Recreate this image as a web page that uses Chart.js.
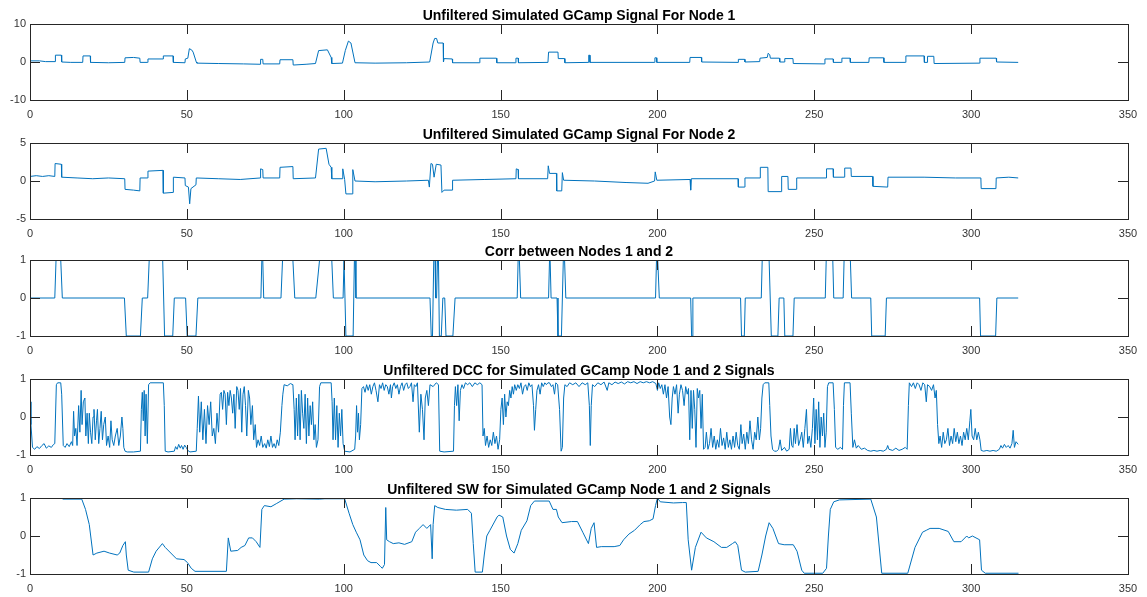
<!DOCTYPE html>
<html>
<head>
<meta charset="utf-8">
<script src="https://cdn.jsdelivr.net/npm/chart.js@4"></script>
<style>
  body { margin: 0; background: #fff; }
  #wrap { position: relative; width: 1147px; height: 597px; }
  .panel { position: absolute; left: 0; width: 1147px; height: 120px; }
</style>
</head>
<body>
<div id="wrap">
  <div class="panel" style="top:0px"><canvas id="c1" width="1147" height="120"></canvas></div>
  <div class="panel" style="top:119px"><canvas id="c2" width="1147" height="120"></canvas></div>
  <div class="panel" style="top:236px"><canvas id="c3" width="1147" height="120"></canvas></div>
  <div class="panel" style="top:355px"><canvas id="c4" width="1147" height="120"></canvas></div>
  <div class="panel" style="top:474px"><canvas id="c5" width="1147" height="120"></canvas></div>
</div>
<script>
// x axis ticks shared by every subplot
const xTicks = [0, 50, 100, 150, 200, 250, 300, 350];

const titles = [
    'Unfiltered Simulated GCamp Signal For Node 1',
    'Unfiltered Simulated GCamp Signal For Node 2',
    'Corr between Nodes 1 and 2',
    'Unfiltered DCC for Simulated GCamp Node 1 and 2 Signals',
    'Unfiltered SW for Simulated GCamp Node 1 and 2 Signals'
];

// y tick labels per subplot
const yTicks1 = [-10, 0, 10];
const yTicks2 = [-5, 0, 5];
const yTicks3 = [-1, 0, 1];

// signals as [time, value]
const node1 = [[0,0.3],[3,0.3],[5,0.1],[8,0.1],[8.1,1.8],[10,1.8],[10.1,0],[13,-0.1],[16.8,-0.1],[16.9,1.6],[19.2,1.6],[19.3,-0.1],[25,-0.2],[30.2,-0.1],[30.3,1.1],[33,1.2],[35,1.0],[35.1,-0.1],[37.5,-0.1],[37.6,0.8],[42.4,0.8],[42.5,1.6],[45.6,1.6],[45.7,-0.1],[49.4,-0.2],[49.5,0.8],[50.3,1.0],[50.8,3.5],[51.5,3.2],[52,2.6],[53,0],[53.2,-0.3],[60,-0.4],[68,-0.5],[73.4,-0.6],[73.5,0.7],[74.2,0.7],[74.3,-0.5],[79.6,-0.5],[79.7,0.6],[83.8,0.6],[83.9,-0.8],[88,-0.6],[91,-0.4],[92,3.0],[94.8,3.2],[96,1.2],[96.2,-0.4],[99.6,-0.3],[100.5,3.0],[101.5,5.5],[102.3,5.0],[103.6,-0.2],[110,-0.3],[120,-0.2],[127.4,0],[128.5,5.0],[129,6.2],[129.6,6.2],[130,5.0],[131.7,5.0],[131.8,0],[132,0.9],[134.6,0.8],[134.7,-0.2],[143.3,-0.2],[143.4,1.0],[148.7,1.0],[148.8,-0.2],[154.8,-0.2],[154.9,1.0],[155.6,1.0],[155.7,-0.2],[165.1,-0.1],[165.3,2.6],[168.3,2.6],[168.4,0.9],[170.4,0.9],[170.5,-0.2],[177.9,-0.1],[178.1,1.8],[178.4,1.8],[178.5,-0.1],[199,-0.1],[199.2,1.1],[199.7,1.1],[199.8,-0.1],[210.3,-0.1],[210.4,1.2],[214,1.2],[214.1,0],[225.7,-0.1],[225.8,0.7],[227.8,0.7],[227.9,0],[232.6,0.1],[232.7,1.0],[235,1.2],[235.3,2.3],[235.8,1.9],[236,1.0],[238.9,1.0],[239,0],[240.5,0],[240.6,0.9],[243.2,0.9],[243.3,-0.4],[253.3,-0.5],[253.4,0.8],[256,0.8],[256.1,-0.1],[258.7,-0.1],[258.8,1.0],[261.4,1.0],[261.5,-0.1],[267.4,-0.1],[267.5,1.1],[272.1,1.1],[272.2,-0.1],[279.1,-0.1],[279.2,1.6],[285,1.6],[285.1,-0.1],[286,-0.1],[286.1,1.5],[288.1,1.5],[288.2,-0.4],[302.7,-0.3],[302.8,1.0],[308,1.0],[308.1,0],[315,-0.1]];

const node2 = [[0,0.6],[2,0.7],[4,0.6],[6,0.7],[7.9,0.6],[8,2.3],[10,2.2],[10.1,0.5],[15,0.4],[20,0.3],[25,0.4],[30.2,0.3],[30.3,-1.1],[33,-1.2],[35,-1.3],[35.1,0.4],[37.5,0.4],[37.6,1.3],[42.4,1.4],[42.5,-1.6],[45.6,-1.5],[45.7,0.5],[49.4,0.4],[49.5,-0.6],[50.5,-0.8],[50.9,-3.0],[51.3,-1.0],[52.9,-0.5],[53,0.4],[60,0.3],[67,0.2],[73.4,0.4],[73.5,1.6],[74.2,1.5],[74.3,0.4],[79.6,0.4],[79.7,1.8],[83.8,1.9],[83.9,0.3],[91,0.4],[92,4.2],[94.4,4.3],[95.3,2.2],[96,1.8],[96.2,0.3],[99.5,0.3],[99.7,1.6],[100.3,0.2],[100.7,-1.7],[102.7,-1.7],[102.9,1.5],[103.6,0],[110,-0.1],[120,0],[127,0.1],[127.3,-0.8],[127.8,2.3],[128.3,2.2],[128.8,0.5],[129.5,2.2],[131,2.1],[131.3,-1.5],[132,-1.2],[134.6,-1.2],[134.7,0.1],[145,0.2],[154.9,0.3],[155,1.6],[155.6,1.5],[155.7,0.3],[165,0.3],[165.2,2.0],[165.6,1.0],[167.8,1.0],[167.9,-1.3],[169.5,-1.3],[169.7,1.1],[170.1,0.1],[180,0],[190,-0.2],[197,-0.3],[199.1,0],[199.3,1.2],[199.8,0.1],[210.4,0.2],[210.6,-1.2],[210.8,0.3],[225.7,0.3],[225.8,-0.8],[227.8,-0.8],[227.9,0.4],[232.7,0.4],[232.8,1.8],[235.2,1.8],[235.3,-1.4],[239.5,-1.4],[239.6,0.6],[241.6,0.6],[241.7,-1.1],[244.3,-1.1],[244.4,0.4],[253.8,0.4],[253.9,1.6],[256,1.6],[256.1,0.5],[259.6,0.5],[259.7,1.7],[261.7,1.7],[261.8,0.6],[268.6,0.6],[268.7,-0.7],[273.4,-0.8],[273.5,0.5],[285,0.5],[295,0.4],[303.1,0.4],[303.2,-1.0],[307.9,-1.0],[308,0.4],[312,0.5],[315,0.4]];

const corr = [[0,0],[7.9,0],[8.3,1],[9.8,1],[10.3,0],[30.1,0],[30.7,-1],[35.2,-1],[35.8,0],[37.5,0],[38,1],[42.3,1],[42.9,-1],[45.5,-1],[46,0],[49.6,0],[50.1,-1],[52.9,-1],[53.5,0],[73.6,0],[73.9,1],[74.2,1],[74.5,0],[80,0],[80.5,1],[83.8,1],[84.4,0],[91.1,0],[92.3,1],[96.2,1],[96.7,0],[99.8,0],[100.1,1],[100.3,1],[100.7,-1],[103,-1],[103.4,1],[103.6,1],[103.9,0],[127.5,0],[127.9,-1],[128.3,-1],[128.7,1],[129.1,1],[129.3,0],[129.6,0],[129.9,1],[130.2,1],[130.5,-1],[131.1,-1],[131.6,0],[132.2,0],[132.6,-1],[134.8,-1],[135.5,0],[155.3,0],[155.6,1],[156,1],[156.4,0],[165.3,0],[165.6,1],[165.8,1],[166.1,0],[168,0],[168.3,-1],[169.4,-1],[170,1],[170.4,1],[170.8,0],[199.4,0],[199.7,1],[200.1,1],[200.6,0],[210.6,0],[210.9,-1],[211.1,-1],[211.3,0],[226.5,0],[226.8,-1],[227.7,-1],[228,0],[233.1,0],[233.4,1],[235.6,1],[236.3,-1],[238.4,-1],[238.8,0],[240.3,0],[240.6,-1],[243.2,-1],[243.6,0],[253.5,0],[253.8,1],[255.9,1],[256.2,0],[259.2,0],[259.5,1],[261.5,1],[261.9,0],[268,0],[268.3,-1],[272.6,-1],[273,0],[302.7,0],[303,-1],[307.8,-1],[308.2,0],[315,0]];

const dcc = [[0,0.4],[0.3,-0.2],[0.8,-0.8],[1.5,-0.85],[2.2,-0.78],[3,-0.83],[3.8,-0.75],[4.5,-0.7],[5.2,-0.82],[6,-0.76],[6.8,-0.8],[7.5,-0.72],[7.9,-0.7],[8.4,0.85],[8.8,0.9],[9.8,0.9],[10.1,0.6],[10.6,-0.75],[11.2,-0.8],[11.8,-0.7],[12.5,-0.78],[13.2,-0.65],[13.6,-0.75],[13.9,0.15],[14.2,-0.5],[14.6,-0.3],[15,-0.75],[15.5,0.3],[15.9,-0.4],[16.3,0.7],[16.6,-0.2],[17,0.4],[17.5,0.5],[17.8,-0.5],[18.2,0.1],[18.6,-0.7],[18.9,0.1],[19.3,-0.4],[19.7,-0.7],[20.1,0.0],[20.4,0.2],[20.8,-0.6],[21.2,-0.1],[21.5,0.2],[21.9,-0.7],[22.3,-0.3],[22.7,0.15],[23.1,-0.6],[23.5,-0.2],[24,0.0],[24.4,-0.75],[24.9,-0.5],[25.4,-0.8],[25.8,-0.1],[26.2,-0.6],[26.7,-0.75],[27.2,-0.5],[27.8,-0.3],[28.3,-0.75],[28.8,-0.5],[29.3,0.0],[29.6,-0.3],[29.9,-0.8],[30.3,-0.9],[31,-0.92],[33,-0.92],[35.2,-0.9],[35.5,0.2],[35.8,0.65],[36.1,-0.1],[36.4,0.7],[36.7,-0.5],[37,0.6],[37.4,-0.7],[37.8,0.85],[38.3,0.9],[42.5,0.9],[42.8,0.3],[43.1,-0.9],[44,-0.92],[46,-0.9],[46.4,-0.78],[46.9,-0.85],[47.4,-0.72],[47.9,-0.82],[48.3,-0.75],[48.8,-0.85],[49.3,-0.74],[49.8,-0.8],[50.3,-0.88],[51,-0.92],[53,-0.9],[53.3,-0.3],[53.7,0.55],[54.1,-0.4],[54.6,0.4],[55.1,-0.6],[55.6,0.2],[56.1,-0.7],[56.6,0.3],[57.1,-0.2],[57.6,0.4],[58.1,-0.5],[58.6,-0.3],[59.1,-0.7],[59.6,0.1],[60.1,-0.4],[60.6,0.6],[61,0.65],[61.4,0.2],[61.8,0.7],[62.2,0.6],[62.6,-0.2],[63,0.65],[63.4,0.3],[63.8,0.7],[64.2,0.5],[64.6,0.1],[65,0.6],[65.4,-0.3],[65.9,0.8],[66.3,0.7],[66.7,0.2],[67.1,0.75],[67.5,-0.4],[67.9,0.6],[68.3,0.8],[68.7,0.3],[69.1,-0.5],[69.6,0.7],[70,0.5],[70.4,-0.2],[70.9,0.3],[71.3,-0.6],[71.8,-0.2],[72.2,-0.8],[72.7,-0.6],[73.2,-0.75],[73.7,-0.5],[74.2,-0.8],[74.8,-0.7],[75.3,-0.82],[75.8,-0.6],[76.3,-0.78],[76.8,-0.5],[77.3,-0.8],[77.8,-0.7],[78.3,-0.82],[78.8,-0.6],[79.3,-0.75],[79.8,-0.4],[80.3,0.3],[80.6,0.6],[81,0.85],[82,0.82],[83,0.88],[83.8,0.85],[84.2,0.2],[84.5,-0.6],[84.9,0.5],[85.3,-0.5],[85.7,0.6],[86.1,-0.6],[86.5,0.7],[86.9,0.1],[87.3,-0.3],[87.7,0.6],[88.1,-0.7],[88.5,0.5],[88.9,-0.5],[89.3,0.3],[89.7,-0.2],[90.1,0.4],[90.5,-0.6],[90.9,-0.2],[91.3,-0.8],[91.8,-0.6],[92.3,0.8],[92.7,0.9],[96,0.9],[96.3,0.4],[96.6,-0.6],[97,0.5],[97.4,-0.6],[97.8,0.3],[98.2,-0.8],[98.6,0.1],[99,-0.5],[99.4,0.2],[99.8,-0.7],[100.3,-0.9],[102,-0.92],[103.5,-0.85],[103.8,-0.5],[104.1,0.3],[104.4,-0.4],[104.7,0.1],[105,-0.6],[105.4,-0.2],[105.8,0.75],[106.3,0.8],[106.8,0.65],[107.3,0.85],[107.8,0.7],[108.3,0.85],[108.8,0.6],[109.3,0.8],[109.8,0.9],[110.3,0.7],[110.9,0.4],[111.4,0.85],[111.9,0.75],[112.4,0.9],[112.9,0.7],[113.4,0.85],[113.9,0.8],[114.4,0.6],[114.9,0.85],[115.2,0.5],[115.6,0.8],[116.1,0.9],[116.6,0.75],[117.1,0.85],[117.6,0.6],[118.1,0.8],[118.6,0.9],[119.1,0.7],[119.6,0.85],[120.1,0.9],[120.6,0.75],[121.1,0.8],[121.6,0.9],[122.1,0.4],[122.5,0.85],[123,0.8],[123.5,0.9],[124.1,-0.4],[124.6,0.6],[125.1,0.2],[125.6,-0.6],[126,0.5],[126.5,0.7],[127,0.3],[127.5,0.85],[128.5,0.8],[129.5,0.9],[130.2,0.85],[130.6,-0.9],[132,-0.92],[135,-0.9],[135.3,0.3],[135.6,0.8],[136,0.3],[136.4,0.85],[136.8,-0.1],[137.2,0.7],[137.7,0.85],[138.2,0.75],[138.8,0.9],[139.5,0.85],[140.2,0.9],[141,0.8],[141.8,0.9],[142.6,0.85],[143.4,0.9],[144.1,0.85],[144.4,-0.5],[144.8,-0.3],[145.2,-0.75],[145.7,-0.5],[146.2,-0.8],[146.7,-0.6],[147.2,-0.75],[147.7,-0.4],[148.2,-0.7],[148.7,-0.5],[149.2,-0.85],[149.7,-0.6],[150.1,0.2],[150.5,0.5],[150.9,-0.2],[151.3,0.6],[151.7,0.0],[152.1,0.4],[152.5,0.3],[152.9,0.7],[153.3,0.5],[153.7,0.8],[154.1,0.6],[154.5,0.85],[155,0.7],[155.5,0.85],[156,0.75],[156.5,0.9],[157,0.6],[157.5,0.8],[158,0.85],[158.5,0.7],[159,0.9],[159.5,0.8],[160,0.85],[160.5,0.3],[160.8,-0.35],[161.2,0.2],[161.6,0.7],[162.1,0.85],[162.6,0.6],[163.1,0.9],[163.6,0.8],[164.1,0.9],[164.6,0.85],[165.1,0.9],[165.6,0.9],[166.2,0.8],[166.7,0.85],[167.2,0.6],[167.6,0.9],[168.2,0.85],[168.8,0.2],[169.3,-0.9],[169.7,-0.8],[170.1,0.5],[170.5,0.85],[171.2,0.8],[172,0.9],[173,0.85],[174,0.9],[175,0.8],[176,0.9],[177,0.85],[177.8,0.9],[178.3,0.3],[178.6,-0.75],[178.9,0.3],[179.3,0.85],[180,0.8],[181,0.9],[182,0.85],[183,0.92],[184,0.7],[184.5,0.9],[185.5,0.85],[186.5,0.92],[187.5,0.88],[188.5,0.92],[189.5,0.87],[190.5,0.93],[191.5,0.9],[192.5,0.93],[193.5,0.88],[194.5,0.93],[195.5,0.9],[196.5,0.93],[197.5,0.9],[198.5,0.93],[199.5,0.88],[200,0.7],[200.4,0.9],[200.9,0.75],[201.4,0.85],[201.9,0.6],[202.4,0.85],[202.9,0.5],[203.4,0.8],[203.9,0.0],[204.3,-0.2],[204.7,0.5],[205.1,0.8],[205.6,0.6],[206.1,0.85],[206.6,0.1],[207,0.6],[207.5,0.85],[208,0.7],[208.5,0.3],[209,0.8],[209.5,0.6],[209.9,0.75],[210.3,-0.6],[210.7,0.7],[211.1,-0.3],[211.5,0.7],[211.9,0.2],[212.3,-0.8],[212.7,0.75],[213.1,0.5],[213.5,0.7],[213.9,-0.3],[214.3,0.6],[214.7,-0.85],[215.2,-0.8],[215.6,-0.4],[216.1,-0.85],[216.6,-0.7],[217.1,-0.3],[217.6,-0.8],[218.1,-0.5],[218.6,-0.85],[219.1,-0.6],[219.6,-0.8],[220.1,-0.3],[220.6,-0.75],[221.1,-0.55],[221.6,-0.85],[222.1,-0.4],[222.6,-0.8],[223.1,-0.6],[223.6,-0.85],[224.1,-0.5],[224.6,-0.8],[225.1,-0.4],[225.6,-0.75],[226.1,-0.85],[226.6,-0.2],[227,-0.7],[227.5,-0.45],[228,-0.85],[228.5,-0.4],[229,-0.7],[229.5,-0.1],[230,-0.6],[230.5,-0.85],[231,-0.4],[231.5,-0.6],[232,0.0],[232.5,-0.6],[232.9,-0.3],[233.3,0.5],[233.7,0.85],[234.2,0.9],[235.5,0.9],[235.8,0.3],[236.2,-0.5],[236.7,-0.85],[237.3,-0.9],[238,-0.9],[238.6,-0.85],[239.1,-0.6],[239.6,-0.88],[240.5,-0.8],[241.2,-0.9],[242,-0.85],[242.4,-0.3],[242.8,-0.75],[243.2,-0.8],[243.6,-0.3],[244,-0.7],[244.5,-0.2],[245,-0.75],[245.5,-0.6],[246,-0.4],[246.5,-0.8],[247,-0.3],[247.5,0.2],[247.9,-0.7],[248.4,-0.5],[248.9,-0.8],[249.4,-0.3],[249.8,0.5],[250.2,-0.7],[250.6,0.2],[251,-0.6],[251.4,0.4],[251.8,-0.8],[252.2,0.0],[252.6,-0.5],[253,0.1],[253.4,-0.8],[253.8,-0.4],[254.2,0.8],[254.6,0.9],[256,0.9],[256.4,0.2],[256.8,-0.8],[257.5,-0.85],[258.3,-0.8],[259,-0.85],[259.3,0.3],[259.6,0.9],[261.4,0.9],[261.8,0.1],[262.3,-0.8],[262.8,-0.6],[263.4,-0.82],[264,-0.75],[265,-0.85],[266,-0.82],[267,-0.88],[268,-0.9],[269,-0.88],[270,-0.9],[271,-0.88],[272,-0.9],[273,-0.85],[273.4,-0.75],[273.8,-0.85],[275,-0.88],[276,-0.82],[277,-0.88],[278,-0.85],[279,-0.8],[279.6,-0.85],[280,0.3],[280.3,0.9],[281,0.8],[281.6,0.9],[282.2,0.75],[282.8,0.9],[283.4,0.85],[284,0.7],[284.6,0.9],[285.2,0.85],[285.7,0.4],[286.1,0.85],[286.8,0.8],[287.4,0.7],[288,0.85],[288.5,0.5],[288.9,0.7],[289.3,-0.2],[289.7,-0.7],[290.1,-0.5],[290.6,-0.8],[291.1,-0.4],[291.6,-0.7],[292.1,-0.6],[292.6,-0.3],[293.1,-0.75],[293.6,-0.5],[294.1,-0.7],[294.6,-0.3],[295.1,-0.65],[295.6,-0.4],[296.1,-0.7],[296.6,-0.5],[297.1,-0.75],[297.6,-0.4],[298.1,-0.6],[298.6,-0.3],[299.1,-0.6],[299.6,-0.1],[299.9,0.2],[300.3,-0.5],[300.8,-0.6],[301.3,-0.3],[301.8,-0.6],[302.3,-0.4],[302.8,-0.6],[303.2,-0.88],[304,-0.9],[305,-0.88],[306,-0.9],[307,-0.88],[308,-0.9],[309,-0.85],[309.5,-0.75],[310,-0.82],[310.6,-0.72],[311.2,-0.8],[311.8,-0.75],[312.4,-0.82],[313,-0.7],[313.4,-0.35],[313.8,-0.8],[314.3,-0.65],[315,-0.72]];

const sw = [[10.4,0.97],[16.5,0.97],[17.7,0.7],[18.9,0.3],[20.1,-0.5],[21.3,-0.45],[23.6,-0.4],[25.4,-0.45],[27.8,-0.5],[28.6,-0.45],[29.6,-0.25],[30.4,-0.15],[30.7,-0.5],[31.3,-0.9],[33.1,-0.95],[37.8,-0.95],[39,-0.6],[40.2,-0.4],[42.2,-0.2],[43.1,-0.3],[45.5,-0.5],[46.7,-0.6],[49.1,-0.62],[50.2,-0.7],[51.4,-0.85],[52.6,-0.93],[62.6,-0.93],[63.2,-0.05],[64,-0.4],[66.2,-0.38],[67.3,-0.3],[68.5,-0.25],[69.7,-0.05],[70.9,-0.05],[72.1,-0.15],[73.3,-0.3],[73.9,0.7],[74.7,0.8],[76.8,0.77],[78.5,0.85],[81,0.97],[85,0.98],[92.2,0.97],[94,0.98],[100.3,0.98],[101.7,0.6],[102.9,0.3],[104,0.1],[105.2,-0.1],[106.4,-0.5],[107.6,-0.65],[108.7,-0.7],[110.5,-0.7],[111.7,-0.8],[112.3,-0.85],[113,-0.75],[113.4,0.75],[113.7,-0.1],[114.6,-0.15],[115.8,-0.2],[117.6,-0.18],[119.4,-0.22],[121.7,-0.15],[122.9,0.1],[124.1,0.2],[125.3,0.3],[126.5,0.2],[127.7,0.3],[128.2,-0.6],[128.5,0.3],[129,0.8],[130,0.75],[132.4,0.7],[135.9,0.68],[139.5,0.7],[140.7,0.6],[141.3,-0.2],[141.9,-0.95],[144.2,-0.95],[144.8,-0.5],[145.6,0.0],[146.6,0.15],[148.9,0.5],[149.5,0.55],[150.7,0.5],[151.9,0.0],[153.1,-0.35],[154.3,-0.45],[155.5,-0.2],[156.6,0.15],[158.4,0.4],[159.6,0.8],[160.8,0.92],[165.5,0.92],[166.7,0.7],[167.8,0.7],[168.4,0.5],[169.6,0.35],[172.6,0.38],[174.5,0.38],[176.2,0.1],[178,-0.2],[178.9,0.2],[179.8,0.35],[180.6,-0.3],[182.1,-0.28],[186.2,-0.28],[188,-0.25],[189.2,-0.1],[190.9,0.05],[192.7,0.15],[194.5,0.3],[195.7,0.38],[197.4,0.4],[198.6,0.45],[199.4,0.8],[200,1.0],[200.9,0.9],[205.1,0.87],[208,0.88],[209.2,0.88],[209.8,-0.1],[210.9,-0.9],[212.1,-0.3],[213.9,0.1],[215.6,-0.05],[218,-0.15],[220.4,-0.3],[222.1,-0.3],[223.9,-0.2],[224.8,-0.15],[225.6,-0.25],[226.8,-0.9],[228,-0.95],[232.1,-0.93],[233.3,-0.5],[234.5,0.0],[235.6,0.35],[236.8,0.2],[238.6,-0.2],[240.4,-0.23],[243.3,-0.23],[244.5,-0.4],[246,-0.9],[246.8,-0.98],[252.7,-0.98],[253.9,-0.85],[254.5,0.0],[255.1,0.7],[256.2,0.9],[258,0.95],[268,0.97],[269.8,0.5],[271.5,-0.98],[279.8,-0.98],[282.1,-0.3],[284.5,0.1],[285.7,0.15],[286.9,0.2],[289.8,0.2],[292.7,0.12],[294.5,-0.15],[296.8,-0.15],[298.6,0.0],[299.2,-0.05],[300.4,0.0],[302.7,-0.1],[303.3,-0.9],[304.5,-0.98],[315.1,-0.98]];

const LINE = '#0072BD';
const AXIS = '#262626';
const TICK_LEN = 10;

// matlab style box with inward ticks on all four sides, plus the title
const matlabAxes = {
    id: 'matlabAxes',
    afterDraw(chart, args, opts) {
        const { ctx, chartArea: a, scales } = chart;
        const x = scales.x, y = scales.y;
        ctx.save();
        ctx.strokeStyle = AXIS;
        ctx.lineWidth = 1;
        ctx.beginPath();
        x.ticks.forEach(t => {
            const px = Math.round(x.getPixelForValue(t.value)) + 0.5;
            ctx.moveTo(px, a.bottom); ctx.lineTo(px, a.bottom - TICK_LEN);
            ctx.moveTo(px, a.top); ctx.lineTo(px, a.top + TICK_LEN);
        });
        y.ticks.forEach(t => {
            const py = Math.round(y.getPixelForValue(t.value)) + 0.5;
            ctx.moveTo(a.left, py); ctx.lineTo(a.left + TICK_LEN, py);
            ctx.moveTo(a.right, py); ctx.lineTo(a.right - TICK_LEN, py);
        });
        ctx.stroke();
        ctx.strokeRect(Math.round(a.left) + 0.5, Math.round(a.top) + 0.5,
            Math.round(a.right - a.left), Math.round(a.bottom - a.top));

        ctx.fillStyle = '#000';
        ctx.font = 'bold 14px "Liberation Sans", Arial, sans-serif';
        ctx.textAlign = 'center';
        ctx.textBaseline = 'alphabetic';
        ctx.fillText(opts.title, (a.left + a.right) / 2, a.top - 4);
        ctx.restore();
    }
};

function makePlot(id, title, points, yTicks) {
    return new Chart(document.getElementById(id), {
        type: 'line',
        data: {
            datasets: [{
                data: points,
                borderColor: LINE,
                borderWidth: 1,
                pointRadius: 0,
                tension: 0,
                fill: false
            }]
        },
        options: {
            responsive: false,
            animation: false,
            layout: { padding: { left: 0, right: 19, top: 24, bottom: 0 } },
            scales: {
                x: {
                    type: 'linear',
                    min: xTicks[0],
                    max: xTicks[xTicks.length - 1],
                    afterBuildTicks: s => { s.ticks = xTicks.map(v => ({ value: v })); },
                    afterFit: s => { s.height = 20; },
                    grid: { display: false, drawTicks: false },
                    border: { display: false },
                    ticks: {
                        autoSkip: false,
                        maxRotation: 0,
                        padding: 8,
                        color: '#333',
                        font: { family: '"Liberation Sans", Arial, sans-serif', size: 11 }
                    }
                },
                y: {
                    type: 'linear',
                    min: yTicks[0],
                    max: yTicks[yTicks.length - 1],
                    afterBuildTicks: s => { s.ticks = yTicks.map(v => ({ value: v })); },
                    afterFit: s => { s.width = 30; },
                    grid: { display: false, drawTicks: false },
                    border: { display: false },
                    ticks: {
                        padding: 4,
                        color: '#333',
                        font: { family: '"Liberation Sans", Arial, sans-serif', size: 11 }
                    }
                }
            },
            plugins: {
                legend: { display: false },
                tooltip: { enabled: false },
                matlabAxes: { title: title }
            }
        },
        plugins: [matlabAxes]
    });
}

makePlot('c1', titles[0], node1, yTicks1);
makePlot('c2', titles[1], node2, yTicks2);
makePlot('c3', titles[2], corr, yTicks3);
makePlot('c4', titles[3], dcc, yTicks3);
makePlot('c5', titles[4], sw, yTicks3);
</script>
</body>
</html>
